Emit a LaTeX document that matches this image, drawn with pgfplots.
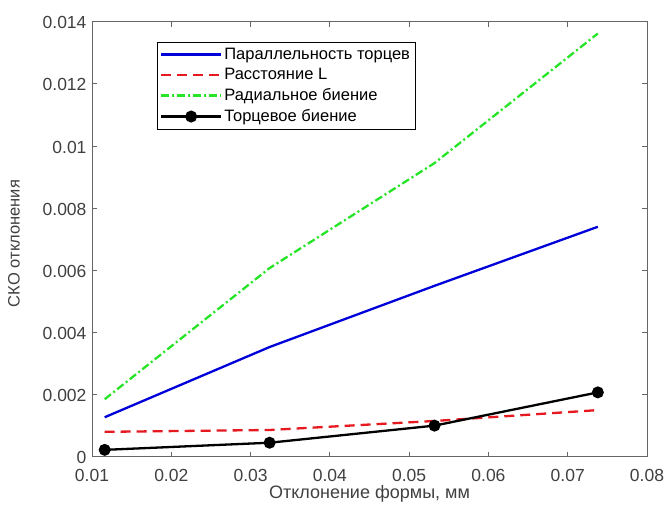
\documentclass[border=0pt]{standalone}
\usepackage{pgfplots}
\pgfplotsset{compat=1.18}
\usepackage{fontspec}
\setmainfont{Liberation Sans}
\definecolor{mblue}{rgb}{0,0,0.85}
\definecolor{mred}{rgb}{0.9,0.1,0.12}
\definecolor{mgreen}{rgb}{0.15,0.9,0.15}
\definecolor{tgray}{rgb}{0.25,0.25,0.25}
\definecolor{agray}{rgb}{0.4,0.4,0.4}
\begin{document}
\begin{tikzpicture}
\begin{axis}[
  scale only axis, width=555pt, height=435pt,
  xmin=0.01, xmax=0.08, ymin=0, ymax=0.014,
  xtick={0.01,0.02,0.03,0.04,0.05,0.06,0.07,0.08},
  ytick={0,0.002,0.004,0.006,0.008,0.01,0.012,0.014},
  scaled ticks=false,
  /pgf/number format/fixed,
  /pgf/number format/precision=3,
  /pgf/number format/assume math mode=true,
  tick label style={font=\fontsize{17.5}{19}\selectfont, text=tgray},
  xticklabel style={yshift=-9pt},
  yticklabel style={xshift=-2pt, yshift=-1pt},
  tick align=inside, major tick length=5pt,
  tick style={agray, line width=0.8pt},
  axis line style={agray, line width=0.9pt},
  xlabel={Отклонение формы, мм},
  ylabel={СКО отклонения},
  xlabel style={at={(rel axis cs:0.5,0)}, anchor=center, yshift=-37pt, font=\fontsize{18}{20}\selectfont, text=tgray},
  ylabel style={at={(rel axis cs:0,0.49)}, anchor=center, yshift=78pt, font=\fontsize{16.5}{18}\selectfont, text=tgray},
  legend style={at={(rel axis cs:0.1166,0.953)}, anchor=north west, draw=black, line width=0.6pt,
    font=\fontsize{16.5}{18}\selectfont, row sep=3.5pt, inner xsep=3pt, inner ysep=3.5pt},
  legend cell align=left,
  legend image code/.code={\draw[#1] (0pt,0pt) -- (60pt,0pt); \path[#1,solid] plot coordinates {(30pt,0pt)};},
  clip=false,
]
\addplot[mblue, line width=2.3pt] coordinates {(0.0116,0.00127) (0.0324,0.00353) (0.0532,0.0055) (0.0738,0.0074)};
\addlegendentry{Параллельность торцев}
\addplot[mred, line width=2.3pt, dash pattern=on 10pt off 6pt] coordinates {(0.0116,0.0008) (0.0324,0.00086) (0.0532,0.00115) (0.0738,0.0015)};
\addlegendentry{Расстояние L}
\addplot[mgreen, line width=2.3pt, dash pattern=on 8pt off 3pt on 2pt off 3pt] coordinates {(0.0116,0.00185) (0.0324,0.00607) (0.0532,0.00945) (0.0738,0.01362)};
\addlegendentry{Радиальное биение}
\addplot[black, line width=2.3pt, mark=*, mark size=4.8pt] coordinates {(0.0116,0.00022) (0.0324,0.00045) (0.0532,0.001) (0.0738,0.00207)};
\addlegendentry{Торцевое биение}
\end{axis}
\path ([shift={(-92pt,-58.3pt)}]current axis.south west) rectangle ([shift={(22pt,21.7pt)}]current axis.north east);
\end{tikzpicture}
\end{document}
